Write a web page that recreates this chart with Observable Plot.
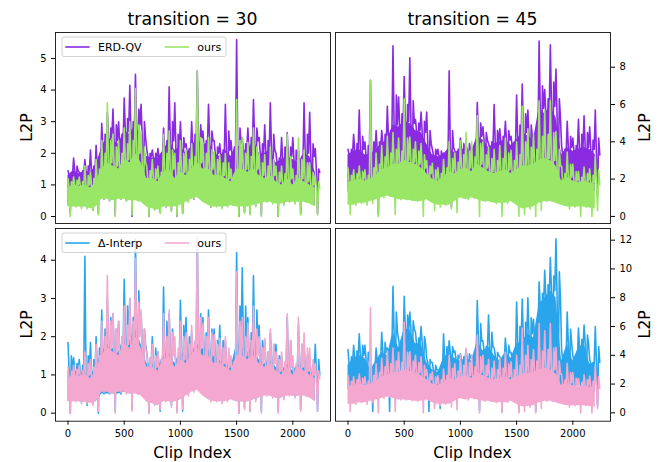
<!DOCTYPE html>
<html>
<head>
<meta charset="utf-8">
<script src="https://cdn.jsdelivr.net/npm/d3@7"></script>
<script src="https://cdn.jsdelivr.net/npm/@observablehq/plot@0.6"></script>
<style>
  html, body { margin: 0; padding: 0; background: #fff; }
  #fig { position: relative; width: 662px; height: 462px; background: #fff; font-family: "DejaVu Sans", sans-serif; }
</style>
</head>
<body>
<div id="fig"></div>
<script>
// ---------- data, per 50-clip bin:
// High = tallest peak, Mid = second peak, Body = top of the dense band,
// Floor = bottom of the dense band, Low = deepest dip ----------
const clipIndex = [0,50,100,150,200,250,300,350,400,450,500,550,600,650,700,750,800,850,900,950,1000,1050,1100,1150,1200,1250,1300,1350,1400,1450,1500,1550,1600,1650,1700,1750,1800,1850,1900,1950,2000,2050,2100,2150,2200];

// transition = 30
const erd30High  = [1.45,1.85,1.4,1.8,2.1,2.25,2.95,3.3,3.4,3.0, 3.75,4.15,4.5,3.55,2.15,2.1,2.15,2.8,4.1,3.6, 3.0,2.3,3.0,4.6,2.7,3.55,2.4,2.3,3.55,2.4, 5.6,2.5,2.8,3.7,2.5,2.9,3.6,2.0,2.5,2.65, 2.5,2.1,3.6,3.3,2.15];
const erd30Mid   = [1.4,1.6,1.45,1.6,1.6,1.9,2.6,2.8,2.9,2.6, 3.1,3.0,3.4,3.0,2.0,2.0,2.0,2.4,3.0,2.6, 2.5,2.15,2.6,2.9,2.4,2.7,2.2,2.1,2.7,2.2, 2.8,2.3,2.5,2.8,2.3,2.4,2.6,1.85,2.2,2.2, 2.1,1.9,2.6,2.3,1.5];
const erd30Body  = [1.3,1.45,1.35,1.45,1.4,1.6,2.2,2.5,2.4,2.3, 2.7,2.6,2.9,2.5,1.9,1.85,1.85,2.1,2.4,2.1, 2.2,2.0,2.2,2.5,2.2,2.4,2.0,1.9,2.1,1.9, 2.3,2.1,2.1,2.4,2.0,2.0,2.1,1.7,1.8,1.9, 1.8,1.7,2.0,1.9,1.4];
const erd30Floor = [0.35,0.35,0.35,0.35,0.3,0.35,0.6,0.6,0.55,0.6, 0.6,0.55,0.55,0.5,0.35,0.3,0.25,0.35,0.35,0.35, 0.4,0.5,0.6,0.65,0.5,0.4,0.35,0.35,0.35,0.4, 0.35,0.35,0.35,0.4,0.45,0.5,0.5,0.45,0.45,0.5, 0.5,0.5,0.5,0.45,0.35];
const erd30Low   = [0.1,0.35,0.3,0.3,0.2,0.1,0.55,0.5,0.05,0.55, 0.5,0.0,0.55,0.45,0.0,0.25,0.15,0.3,0.2,0.0, 0.1,0.5,0.55,0.6,0.45,0.3,0.35,0.3,0.35,0.4, 0.0,0.15,0.1,0.35,0.05,0.5,0.45,0.0,0.4,0.5, 0.45,0.1,0.5,0.45,0.1];
const delta30High  = [1.85,1.45,1.4,4.1,1.85,2.0,2.7,3.0,2.6,2.4, 3.5,3.0,4.55,2.6,1.6,2.0,1.6,3.3,2.6,1.6, 2.95,2.5,2.1,4.6,2.5,2.7,2.2,2.3,1.9,1.2, 4.2,3.8,2.5,3.6,2.3,1.9,2.1,1.8,1.5,2.5, 1.2,2.3,1.8,1.4,1.8];
const delta30Mid   = [1.5,1.3,1.25,1.5,1.4,1.7,2.2,2.5,2.2,2.0, 2.8,2.5,3.2,2.2,1.45,1.7,1.4,2.4,2.2,1.45, 2.3,2.0,1.85,2.6,2.1,2.2,1.9,1.9,1.6,1.25, 2.8,2.8,2.1,2.7,1.9,1.6,1.8,1.5,1.3,1.9, 1.2,1.8,1.5,1.25,1.4];
const delta30Body  = [1.1,1.1,1.05,1.1,1.0,1.2,1.6,1.8,1.7,1.6, 2.0,1.9,2.2,1.8,1.3,1.3,1.2,1.5,1.6,1.3, 1.6,1.5,1.6,1.8,1.7,1.7,1.5,1.4,1.3,1.2, 1.8,1.8,1.6,1.7,1.4,1.3,1.4,1.2,1.1,1.3, 1.1,1.3,1.2,1.1,1.0];
const delta30Floor = [0.3,0.35,0.3,0.3,0.3,0.3,0.5,0.5,0.5,0.5, 0.55,0.5,0.55,0.5,0.3,0.25,0.2,0.35,0.3,0.3, 0.35,0.5,0.6,0.65,0.5,0.35,0.35,0.3,0.35,0.4, 0.3,0.3,0.3,0.35,0.4,0.5,0.45,0.4,0.4,0.5, 0.45,0.45,0.5,0.45,0.3];
const delta30Low   = [0.0,0.35,0.3,0.2,0.25,0.0,0.5,0.5,0.05,0.5, 0.55,0.1,0.55,0.5,0.0,0.25,0.05,0.35,0.2,0.05, 0.05,0.5,0.6,0.65,0.5,0.35,0.35,0.3,0.35,0.4, 0.0,0.15,0.05,0.35,0.05,0.5,0.45,0.05,0.4,0.5, 0.45,0.1,0.5,0.45,0.05];
const ours30High  = [1.2,1.25,1.25,1.6,1.4,1.8,2.4,3.6,2.6,2.4, 2.8,3.0,4.05,2.7,1.6,1.8,1.6,2.6,2.7,2.0, 2.4,2.1,2.3,4.6,2.35,2.5,2.05,1.95,2.0,1.5, 3.7,2.5,2.35,2.8,2.0,1.95,2.2,1.6,1.6,2.6, 1.5,2.5,2.1,1.7,1.3];
const ours30Mid   = [1.1,1.15,1.1,1.3,1.2,1.5,2.0,2.4,2.2,2.0, 2.3,2.4,2.9,2.2,1.45,1.5,1.4,2.0,2.1,1.7, 2.0,1.8,1.9,2.5,2.0,2.1,1.8,1.7,1.7,1.35, 2.4,2.0,1.9,2.2,1.7,1.6,1.8,1.4,1.35,1.9, 1.3,1.8,1.7,1.4,1.1];
const ours30Body  = [0.9,1.0,0.95,1.0,0.9,1.1,1.5,1.7,1.6,1.5, 1.8,1.7,2.0,1.7,1.2,1.2,1.1,1.4,1.5,1.2, 1.4,1.3,1.5,1.7,1.5,1.5,1.3,1.3,1.2,1.1, 1.5,1.5,1.4,1.5,1.3,1.2,1.3,1.1,1.0,1.2, 1.0,1.2,1.1,1.0,0.9];
const ours30Floor = [0.3,0.3,0.3,0.3,0.25,0.3,0.55,0.55,0.5,0.55, 0.55,0.5,0.5,0.45,0.3,0.25,0.2,0.3,0.3,0.3, 0.35,0.45,0.55,0.6,0.45,0.35,0.3,0.3,0.3,0.35, 0.3,0.3,0.3,0.35,0.4,0.45,0.45,0.4,0.4,0.45, 0.45,0.45,0.45,0.4,0.3];
const ours30Low   = [0.0,0.3,0.25,0.25,0.2,0.05,0.55,0.5,0.0,0.55, 0.5,0.05,0.5,0.45,0.0,0.2,0.1,0.3,0.15,0.0, 0.1,0.45,0.55,0.6,0.45,0.3,0.3,0.25,0.3,0.35, 0.0,0.1,0.05,0.3,0.0,0.45,0.4,0.0,0.35,0.45, 0.4,0.05,0.45,0.4,0.05];

// transition = 45
const erd45High  = [3.6,4.4,5.7,4.0,7.3,4.6,4.6,5.9,9.15,6.4, 7.5,8.5,5.2,5.6,5.6,3.6,3.6,3.4,7.8,3.5, 4.2,3.8,3.5,6.1,4.8,3.9,6.0,4.7,5.1,4.3, 6.5,7.1,5.7,4.0,9.4,6.8,9.2,7.9,3.8,5.1, 4.2,5.2,5.4,4.8,5.7];
const erd45Mid   = [3.6,3.9,4.3,3.8,4.0,4.0,4.4,4.6,6.5,5.5, 6.0,6.2,5.0,5.1,4.6,3.6,3.5,3.5,4.6,3.6, 3.9,3.9,3.8,5.0,4.5,4.0,4.6,4.3,4.6,4.0, 4.9,5.5,4.9,4.4,7.0,6.3,7.2,6.3,3.6,4.3, 3.8,4.4,4.5,4.1,4.2];
const erd45Body  = [3.3,3.5,3.6,3.3,3.3,3.6,3.9,4.1,4.9,4.8, 5.1,5.0,4.6,4.5,3.9,3.3,3.2,3.3,3.7,3.4, 3.6,3.6,3.5,4.3,4.1,3.7,3.9,4.0,4.1,3.8, 4.1,4.5,4.3,4.1,5.8,5.5,5.9,5.3,3.3,3.7, 3.5,3.6,3.7,3.6,3.3];
const erd45Floor = [1.3,1.5,1.8,1.5,1.6,1.6,1.8,1.9,1.7,1.8, 1.6,1.9,1.8,1.6,1.7,1.5,1.4,1.5,1.4,1.3, 1.6,1.7,1.7,1.8,1.9,1.7,1.6,1.5,1.7,1.6, 1.4,1.5,1.4,1.3,1.8,2.0,2.1,1.9,1.5,1.6, 1.4,1.5,1.4,1.5,1.3];
const erd45Low   = [1.2,1.5,1.8,1.4,1.6,0.1,1.8,1.9,1.7,1.8, 1.5,1.9,1.8,1.6,1.7,1.5,1.4,1.5,0.5,1.0, 1.6,1.7,1.7,1.8,1.9,1.7,1.6,1.5,1.7,1.6, 0.9,1.5,1.4,1.2,1.8,2.0,2.1,1.9,1.5,1.6, 1.4,1.5,1.4,1.5,1.2];
const delta45High  = [4.4,4.7,5.5,4.7,3.2,4.5,5.6,4.5,8.8,5.1, 8.1,7.0,5.6,6.0,3.8,3.5,3.0,5.5,5.0,4.3, 4.1,4.4,4.0,7.8,5.0,6.8,4.5,3.9,5.2,4.2, 7.7,7.9,8.0,6.5,9.1,9.9,10.8,12.1,4.4,7.0, 4.0,5.9,6.1,3.7,6.0];
const delta45Mid   = [3.9,4.3,4.7,4.2,3.1,4.0,4.9,4.3,7.0,4.8, 6.8,6.4,5.2,5.3,3.7,3.3,2.9,4.6,4.6,4.0, 3.9,4.1,3.8,6.2,4.6,5.6,4.2,3.8,4.7,4.0, 6.0,6.3,6.6,5.8,8.3,8.9,9.5,9.8,4.0,5.8, 3.8,5.1,5.4,3.5,4.6];
const delta45Body  = [3.3,3.8,4.0,3.8,3.0,3.6,4.2,4.0,5.6,4.5, 5.8,5.8,4.8,4.8,3.5,3.0,2.8,3.8,4.2,3.8, 3.6,3.8,3.6,5.0,4.3,4.6,4.0,3.6,4.2,3.8, 4.8,5.0,5.5,5.2,7.5,8.0,8.5,8.0,3.6,4.8, 3.6,4.5,4.8,3.4,3.5];
const delta45Floor = [1.6,1.8,1.9,1.7,1.5,1.6,2.0,1.9,2.2,2.0, 2.3,2.1,2.0,1.9,1.6,1.4,1.4,1.8,1.9,1.7, 1.8,2.0,2.0,1.9,2.0,1.9,1.7,1.7,1.8,1.9, 1.6,1.5,1.9,1.8,2.5,2.8,2.9,2.5,1.8,2.0, 1.7,1.9,1.8,1.6,1.4];
const delta45Low   = [1.5,1.8,1.9,1.7,0.1,1.6,2.0,0.1,2.2,2.0, 2.3,2.1,2.0,1.9,0.1,1.4,0.3,1.8,1.9,1.7, 1.8,2.0,2.0,0.2,2.0,1.9,1.7,0.1,1.8,1.9, 0.1,1.5,1.9,0.1,2.5,2.8,2.9,2.5,1.8,2.0, 1.7,1.9,1.8,1.6,0.5];
const ours45High  = [2.6,2.5,2.7,2.5,7.3,3.4,3.8,4.3,4.5,4.2, 6.3,4.25,4.0,3.9,3.0,2.85,2.6,3.05,4.0,3.4, 4.05,4.5,4.0,5.4,4.0,3.7,3.6,3.8,4.2,3.55, 4.0,5.9,4.7,4.4,6.2,5.7,6.2,4.55,2.7,3.45, 2.8,2.4,2.65,2.55,3.2];
const ours45Mid   = [2.2,2.3,2.4,2.2,2.6,2.8,3.2,3.4,3.6,3.5, 4.2,3.6,3.5,3.3,2.7,2.5,2.3,2.6,3.1,2.9, 3.3,3.5,3.2,3.9,3.3,3.1,3.0,3.1,3.4,3.0, 3.3,4.0,3.7,3.6,4.3,4.4,4.5,3.6,2.3,2.8, 2.4,2.1,2.3,2.2,2.5];
const ours45Body  = [1.8,1.9,2.0,1.9,2.0,2.2,2.5,2.6,2.8,2.8, 3.0,2.9,2.8,2.6,2.3,2.0,1.9,2.1,2.4,2.3, 2.5,2.6,2.4,2.8,2.6,2.4,2.3,2.4,2.5,2.3, 2.5,2.7,2.7,2.8,3.0,3.1,3.0,2.7,1.9,2.1, 1.9,1.8,1.9,1.8,1.7];
const ours45Floor = [0.6,0.6,0.7,0.7,0.8,0.9,1.0,1.1,1.0,0.9, 0.9,0.85,0.8,0.8,0.9,0.7,0.6,0.6,0.6,0.8, 1.0,0.9,1.0,0.9,0.8,0.8,0.7,0.7,0.7,0.8, 0.6,0.4,0.45,0.5,0.7,0.8,0.8,0.7,0.6,0.5, 0.5,0.5,0.5,0.45,0.4];
const ours45Low   = [0.1,0.6,0.7,0.6,0.7,0.0,1.0,1.1,0.1,0.9, 0.9,0.85,0.8,0.0,0.9,0.3,0.5,0.6,0.4,0.2, 1.0,0.9,1.0,0.0,0.8,0.8,0.7,0.0,0.7,0.8, 0.0,0.1,0.4,0.0,0.3,0.8,0.8,0.7,0.6,0.4, 0.5,0.0,0.5,0.0,0.3];

// labels / ticks
const titles = ["transition = 30", "transition = 45"];
const legendTop = ["ERD-QV", "ours"];
const legendBottom = ["\u0394-Interp", "ours"];
const xTicks = [0, 500, 1000, 1500, 2000];
const yTicksTL = [0, 1, 2, 3, 4, 5];
const yTicksTR = [0, 2, 4, 6, 8];
const yTicksBL = [0, 1, 2, 3, 4];
const yTicksBR = [0, 2, 4, 6, 8, 10, 12];
const xLabel = "Clip Index";
const yLabel = "L2P";

// ---------- styling ----------
const colERD = "#8a2be2", colOursG = "#9ae667", colDelta = "#2aa5ec", colOursP = "#f4a8d0";
const W = 662, H = 462;
const FONT = "DejaVu Sans, sans-serif";
const xDomain = [-111.2, 2335.2];

// within each 50-clip bin: peak, band top, dip, second peak, band top
function trace(s) {
  return clipIndex.flatMap((c, i) => [
    {x: c, y: s.high[i]}, {x: c + 10, y: s.body[i]}, {x: c + 20, y: s.low[i]},
    {x: c + 30, y: s.mid[i]}, {x: c + 40, y: s.body[i]}
  ]);
}
function band(s) {
  return clipIndex.map((c, i) => ({x: c, lo: s.floor[i], hi: s.body[i]}));
}
function seriesMarks(s, color) {
  return [
    Plot.areaY(band(s), {x: "x", y1: "lo", y2: "hi", fill: color}),
    Plot.line(trace(s), {x: "x", y: "y", stroke: color, strokeWidth: 1.6})
  ];
}
const S = (high, mid, body, floor, low) => ({high, mid, body, floor, low});
const erd30 = S(erd30High, erd30Mid, erd30Body, erd30Floor, erd30Low);
const delta30 = S(delta30High, delta30Mid, delta30Body, delta30Floor, delta30Low);
const ours30 = S(ours30High, ours30Mid, ours30Body, ours30Floor, ours30Low);
const erd45 = S(erd45High, erd45Mid, erd45Body, erd45Floor, erd45Low);
const delta45 = S(delta45High, delta45Mid, delta45Body, delta45Floor, delta45Low);
const ours45 = S(ours45High, ours45Mid, ours45Body, ours45Floor, ours45Low);

const panels = [
  {l: 55, r: 330, t: 32, b: 223, ydom: [-0.22, 5.82], yt: yTicksTL, side: "left", xaxis: false,
   series: [[erd30, colERD], [ours30, colOursG]]},
  {l: 335, r: 610, t: 32, b: 223, ydom: [-0.38, 9.86], yt: yTicksTR, side: "right", xaxis: false,
   series: [[erd45, colERD], [ours45, colOursG]]},
  {l: 55, r: 330, t: 228, b: 420.7, ydom: [-0.21, 4.83], yt: yTicksBL, side: "left", xaxis: true,
   series: [[delta30, colDelta], [ours30, colOursP]]},
  {l: 335, r: 610, t: 228, b: 420.7, ydom: [-0.58, 12.81], yt: yTicksBR, side: "right", xaxis: true,
   series: [[delta45, colDelta], [ours45, colOursP]]}
];

const fig = document.getElementById("fig");

for (const p of panels) {
  const marks = [
    ...p.series.flatMap(([s, c]) => seriesMarks(s, c)),
    Plot.frame({stroke: "#111", strokeWidth: 0.9}),
    Plot.axisY(p.yt, {anchor: p.side, tickSize: 4, tickPadding: 5, label: null, fontSize: 10, tickFormat: "d"})
  ];
  if (p.xaxis) marks.push(Plot.axisX(xTicks, {anchor: "bottom", tickSize: 4, tickPadding: 4.5, label: null, fontSize: 10, tickFormat: "d"}));
  const svg = Plot.plot({
    width: W, height: H,
    marginLeft: p.l, marginRight: W - p.r, marginTop: p.t, marginBottom: H - p.b,
    x: {domain: xDomain, axis: p.xaxis ? undefined : null},
    y: {domain: p.ydom},
    style: {background: "transparent", fontFamily: FONT, fontSize: "10px", color: "#000",
            position: "absolute", left: "0px", top: "0px", overflow: "visible"},
    marks
  });
  fig.appendChild(svg);
}

// ---------- overlay: titles, axis labels, legends ----------
const ov = d3.create("svg").attr("width", W).attr("height", H)
  .style("position", "absolute").style("left", "0px").style("top", "0px")
  .style("font-family", FONT);

const colCenters = [192.5, 472.5];
titles.forEach((t, i) => {
  ov.append("text").attr("x", colCenters[i]).attr("y", 25).attr("text-anchor", "middle")
    .attr("font-size", 17.3).attr("fill", "#000").text(t);
  ov.append("text").attr("x", colCenters[i]).attr("y", 457.5).attr("text-anchor", "middle")
    .attr("font-size", 15.8).attr("fill", "#000").text(xLabel);
});

const rowCenters = [127.5, 324.4];
rowCenters.forEach(cy => {
  ov.append("text").attr("transform", `translate(31.5,${cy}) rotate(-90)`).attr("text-anchor", "middle")
    .attr("font-size", 15.8).attr("fill", "#000").text(yLabel);
  ov.append("text").attr("transform", `translate(650,${cy}) rotate(-90)`).attr("text-anchor", "middle")
    .attr("font-size", 15.8).attr("fill", "#000").text(yLabel);
});

function legend(top, labels, colors) {
  const g = ov.append("g");
  g.append("rect").attr("x", 62).attr("y", top + 5).attr("width", 164).attr("height", 19.5)
    .attr("rx", 2).attr("fill", "rgba(255,255,255,0.8)").attr("stroke", "#cccccc").attr("stroke-width", 0.9);
  const ly = top + 15;
  const lineX = [65.3, 164.7], textX = [98, 197.3];
  labels.forEach((lab, i) => {
    g.append("line").attr("x1", lineX[i]).attr("x2", lineX[i] + 24.4).attr("y1", ly).attr("y2", ly)
      .attr("stroke", colors[i]).attr("stroke-width", 1.6);
    g.append("text").attr("x", textX[i]).attr("y", ly + 4).attr("font-size", 11).attr("fill", "#000").text(lab);
  });
}
legend(32, legendTop, [colERD, colOursG]);
legend(228, legendBottom, [colDelta, colOursP]);

fig.appendChild(ov.node());
</script>
</body>
</html>
